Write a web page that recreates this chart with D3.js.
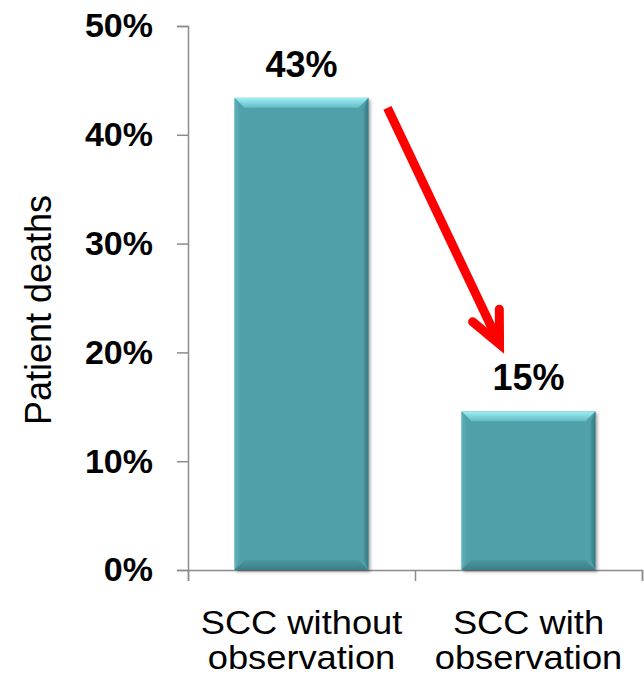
<!DOCTYPE html>
<html><head><meta charset="utf-8">
<script src="https://cdn.jsdelivr.net/npm/d3@7"></script>
<style>
body{margin:0;background:#fff}
svg{display:block}
text{font-family:"Liberation Sans",Arial,sans-serif;fill:#000}
</style>
</head><body>
<svg id="c" width="644" height="682"></svg>
<script>
// ---- data ----
const categories = ["SCC without observation", "SCC with observation"];
const categoryLines = [["SCC without", "observation"], ["SCC with", "observation"]];
const deathRates = [0.434, 0.146];
const valueLabels = ["43%", "15%"];
const yTicks = [0, 0.1, 0.2, 0.3, 0.4, 0.5];
const yTickLabels = ["0%", "10%", "20%", "30%", "40%", "50%"];
const yTitle = "Patient deaths";

// ---- layout ----
const svg = d3.select("#c");
const axisLeft = 188, axisRight = 642, baseY = 570, topY = 26;
const y = d3.scaleLinear().domain([0, 0.5]).range([baseY, topY]);
const x = d3.scaleBand().domain(categories).range([axisLeft, axisRight])
  .paddingInner(0.41).paddingOuter(0.205);

const defs = svg.append("defs");
const gTop = defs.append("linearGradient").attr("id", "bevTop").attr("x1", 0).attr("y1", 0).attr("x2", 0).attr("y2", 1);
gTop.append("stop").attr("offset", 0).attr("stop-color", "#a2eef5");
gTop.append("stop").attr("offset", 1).attr("stop-color", "#62bcc6");
const gBot = defs.append("linearGradient").attr("id", "bevBot").attr("x1", 0).attr("y1", 0).attr("x2", 0).attr("y2", 1);
gBot.append("stop").attr("offset", 0).attr("stop-color", "#4a98a1");
gBot.append("stop").attr("offset", 1).attr("stop-color", "#3a7f87");
const gR = defs.append("linearGradient").attr("id", "bevR").attr("x1", 0).attr("y1", 0).attr("x2", 1).attr("y2", 0);
gR.append("stop").attr("offset", 0).attr("stop-color", "#4a97a0");
gR.append("stop").attr("offset", 1).attr("stop-color", "#367880");
const gL = defs.append("linearGradient").attr("id", "bevL").attr("x1", 0).attr("y1", 0).attr("x2", 1).attr("y2", 0);
gL.append("stop").attr("offset", 0).attr("stop-color", "#5fb3bc");
gL.append("stop").attr("offset", 1).attr("stop-color", "#51a3ac");
const sh = defs.append("filter").attr("id", "shadow").attr("x", "-10%").attr("y", "-10%").attr("width", "130%").attr("height", "130%");
sh.append("feDropShadow").attr("dx", 2).attr("dy", 2).attr("stdDeviation", 1.5).attr("flood-color", "#000").attr("flood-opacity", 0.35);

// ---- axes ----
const yAxis = d3.axisLeft(y).tickValues(yTicks).tickSize(11).tickPadding(24)
  .tickFormat((d, i) => yTickLabels[i]);
const gy = svg.append("g").attr("transform", `translate(${axisLeft},0)`).call(yAxis);
gy.select(".domain").attr("stroke", "#8c8c8c").attr("stroke-width", 1.5);
gy.selectAll(".tick line").attr("stroke", "#8c8c8c").attr("stroke-width", 1.5);
gy.selectAll(".tick text").attr("font-size", 34).attr("font-weight", "bold")
  .attr("font-family", "'Liberation Sans',Arial,sans-serif").attr("fill", "#000");

const boundaries = [axisLeft, ...categories.map(c => x(c) + x.bandwidth() + x.step() * x.paddingInner() / 2)];
boundaries[boundaries.length - 1] = axisRight;
const xLinear = d3.scaleLinear().domain([axisLeft, axisRight]).range([axisLeft, axisRight]);
const xAxis = d3.axisBottom(xLinear).tickValues(boundaries).tickSize(11).tickFormat("");
const gx = svg.append("g").attr("transform", `translate(0,${baseY})`).call(xAxis);
gx.select(".domain").attr("stroke", "#8c8c8c").attr("stroke-width", 1.5);
gx.selectAll(".tick line").attr("stroke", "#8c8c8c").attr("stroke-width", 1.5);

// ---- bars ----
const bev = 10;
const bars = svg.append("g").selectAll("g.bar").data(categories).join("g").attr("class", "bar");
bars.each(function (c, i) {
  const g = d3.select(this);
  const x0 = x(c), x1 = x(c) + x.bandwidth(), y0 = y(deathRates[i]), y1 = y(0);
  g.append("rect").attr("x", x0).attr("y", y0).attr("width", x1 - x0).attr("height", y1 - y0)
    .attr("fill", "#4fa0a9").attr("filter", "url(#shadow)");
  const b = Math.min(bev, (y1 - y0) / 2);
  const poly = pts => pts.map(p => p.join(",")).join(" ");
  g.append("polygon").attr("points", poly([[x0, y0], [x1, y0], [x1 - b, y0 + b], [x0 + b, y0 + b]])).attr("fill", "url(#bevTop)");
  g.append("polygon").attr("points", poly([[x0, y1], [x1, y1], [x1 - b, y1 - b], [x0 + b, y1 - b]])).attr("fill", "url(#bevBot)");
  g.append("polygon").attr("points", poly([[x1, y0], [x1, y1], [x1 - 5, y1 - b], [x1 - 5, y0 + b]])).attr("fill", "url(#bevR)");
  g.append("polygon").attr("points", poly([[x0, y0], [x0, y1], [x0 + 5, y1 - b], [x0 + 5, y0 + b]])).attr("fill", "url(#bevL)");
});

// ---- value labels ----
svg.append("g").selectAll("text").data(categories).join("text")
  .attr("x", c => x(c) + x.bandwidth() / 2)
  .attr("y", (c, i) => y(deathRates[i]) - 21)
  .attr("text-anchor", "middle").attr("font-size", 36).attr("font-weight", "bold")
  .text((c, i) => valueLabels[i]);

// ---- category labels ----
const cl = svg.append("g").selectAll("text").data(categories).join("text")
  .attr("text-anchor", "middle").attr("font-size", 33)
  .attr("transform", c => `translate(${x(c) + x.bandwidth() / 2},${baseY + 64}) scale(1.1,1)`);
cl.selectAll("tspan").data((c, i) => categoryLines[i]).join("tspan")
  .attr("x", 0).attr("dy", (d, j) => j === 0 ? 0 : 35).text(d => d);

// ---- y title ----
svg.append("text").attr("text-anchor", "middle").attr("font-size", 36)
  .attr("transform", `translate(51,${(y(0) + y(0.5)) / 2 + 12}) rotate(-90)`)
  .text(yTitle);

// ---- arrow annotation ----
const c0 = categories[0], c1 = categories[1];
const ax0 = x(c0) + x.bandwidth() + 19, ay0 = y(deathRates[0]) + 10;
const ax1 = x(c1) + 38, ay1 = y(deathRates[1]) - 67;
const ang = Math.atan2(ay1 - ay0, ax1 - ax0);
const armLen = 35, spread = 25 * Math.PI / 180;
const arm = s => [ax1 - armLen * Math.cos(ang + s), ay1 - armLen * Math.sin(ang + s)];
const arr = svg.append("g").attr("stroke", "#ff0000").attr("fill", "none").attr("stroke-width", 9);
arr.append("line").attr("x1", ax0).attr("y1", ay0).attr("x2", ax1 - 3 * Math.cos(ang)).attr("y2", ay1 - 3 * Math.sin(ang));
const a1 = arm(spread), a2 = arm(-spread);
arr.append("path").attr("d", `M${a1[0]},${a1[1]}L${ax1},${ay1}L${a2[0]},${a2[1]}`)
  .attr("stroke-linecap", "round").attr("stroke-linejoin", "miter").attr("stroke-miterlimit", 10);
</script>
</body></html>
